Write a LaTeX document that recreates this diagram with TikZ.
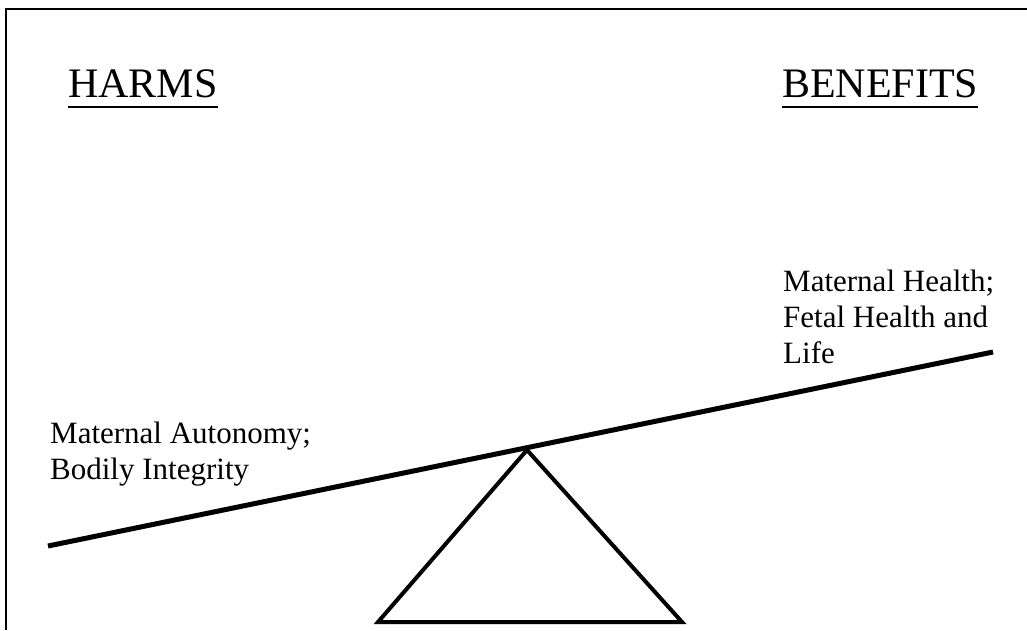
\documentclass[tikz,border=0pt]{standalone}
\usepackage{fontspec}
\setmainfont{Liberation Serif}
\begin{document}
\begin{tikzpicture}[x=1pt,y=-1pt,
    title/.style={anchor=base west,inner sep=0pt,font=\fontsize{42}{50}\selectfont},
    side/.style={anchor=north west,inner sep=0pt,align=left,font=\fontsize{31}{36}\selectfont}]
\useasboundingbox (0,0) rectangle (1027,630);
\draw[line width=2pt](1027,9)--(6,9)--(6,630);
% headings
\node[title] (harms) at (68,97) {HARMS};
\node[title] (benefits) at (782,97) {BENEFITS};
\foreach \n in {harms,benefits}
    \draw[line width=2.5pt]([yshift=-10pt]\n.base west)--([yshift=-10pt]\n.base east);
% the two sides
\node[side] (autonomy) at (50,422) {Maternal Autonomy;\\Bodily Integrity};
\node[side] (health) at (783,270) {Maternal Health;\\Fetal Health and\\Life};
% seesaw
\coordinate (beamL) at (48,546);
\coordinate (beamR) at (993,352);
\coordinate (pivot) at (527,450);
\draw[line width=5pt](beamL)--(beamR);
\draw[line width=4pt](pivot)--(378,622)--(682,622)--cycle;
\end{tikzpicture}
\end{document}
